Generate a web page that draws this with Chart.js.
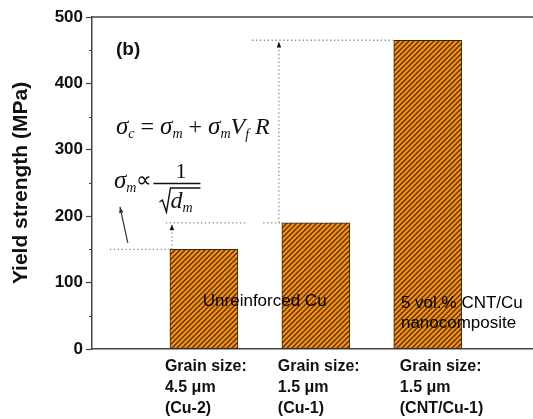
<!DOCTYPE html>
<html>
<head>
<meta charset="utf-8">
<script src="https://cdn.jsdelivr.net/npm/chart.js@4"></script>
<style>
  html, body { margin: 0; padding: 0; background: #fff; }
  #wrap { width: 533px; height: 419px; }
</style>
</head>
<body>
<div id="wrap"><canvas id="yieldChart" width="533" height="419"></canvas></div>
<script>
// chart data
const categories = ['Cu-2', 'Cu-1', 'CNT/Cu-1'];
const xPositions = [1, 2, 3];
const yieldStrength = [150, 190, 465];
const yTicks = [0, 100, 200, 300, 400, 500];
const minorTicks = [50, 150, 250, 350, 450];
const grainLabels = [
  ['Grain size:', '4.5 μm', '(Cu-2)'],
  ['Grain size:', '1.5 μm', '(Cu-1)'],
  ['Grain size:', '1.5 μm', '(CNT/Cu-1)'],
];

const SANS = '"Liberation Sans", Arial, sans-serif';
const SERIF = '"Liberation Serif", "Times New Roman", serif';

// orange fill with dark "/" hatching
function makeHatch() {
  const s = 5;
  const c = document.createElement('canvas');
  c.width = s; c.height = s;
  const g = c.getContext('2d');
  g.fillStyle = '#f3931c';
  g.fillRect(0, 0, s, s);
  g.strokeStyle = '#623005';
  g.lineWidth = 1.4;
  g.beginPath();
  g.moveTo(-1, s + 1); g.lineTo(s + 1, -1);
  g.moveTo(-1, 1); g.lineTo(1, -1);
  g.moveTo(s - 1, s + 1); g.lineTo(s + 1, s - 1);
  g.stroke();
  return g.createPattern(c, 'repeat');
}

function arrowHead(ctx, x, y, ang, len, w) {
  ctx.save();
  ctx.translate(x, y);
  ctx.rotate(ang);
  ctx.beginPath();
  ctx.moveTo(0, 0);
  ctx.lineTo(-len, -w / 2);
  ctx.lineTo(-len, w / 2);
  ctx.closePath();
  ctx.fill();
  ctx.restore();
}

// draws text runs: [text, size, dy, italic]
function drawRuns(ctx, x, y, runs) {
  for (const r of runs) {
    ctx.font = (r[3] ? 'italic ' : '') + r[1] + 'px ' + SERIF;
    ctx.fillText(r[0], x, y + r[2]);
    x += ctx.measureText(r[0]).width;
  }
  return x;
}

const annotations = {
  id: 'annotations',
  afterDraw(chart) {
    const { ctx, chartArea: ca, scales: { x, y } } = chart;
    const X = v => x.getPixelForValue(v);
    const Y = v => y.getPixelForValue(v);
    ctx.save();

    // top frame line
    ctx.strokeStyle = '#444';
    ctx.lineWidth = 1.5;
    ctx.beginPath();
    ctx.moveTo(ca.left, ca.top);
    ctx.lineTo(ca.right, ca.top);
    ctx.stroke();

    // minor ticks
    ctx.lineWidth = 1;
    minorTicks.forEach(v => {
      ctx.beginPath();
      ctx.moveTo(ca.left - 3, Math.round(Y(v)) + 0.5);
      ctx.lineTo(ca.left, Math.round(Y(v)) + 0.5);
      ctx.stroke();
    });

    // dotted guide lines
    ctx.strokeStyle = '#8a8a8a';
    ctx.lineWidth = 1.3;
    ctx.setLineDash([1.3, 2.6]);
    const hline = (x0, x1, v) => {
      ctx.beginPath();
      ctx.moveTo(X(x0), Y(v));
      ctx.lineTo(X(x1), Y(v));
      ctx.stroke();
    };
    const vline = (xv, v0, v1) => {
      ctx.beginPath();
      ctx.moveTo(X(xv), Y(v0));
      ctx.lineTo(X(xv), Y(v1));
      ctx.stroke();
    };
    hline(0.16, 0.69, yieldStrength[0]);
    hline(0.66, 1.38, yieldStrength[1]);
    hline(1.53, 1.70, yieldStrength[1]);
    hline(1.43, 2.69, yieldStrength[2]);
    vline(0.714, yieldStrength[0], yieldStrength[1] - 4);
    vline(1.67, yieldStrength[1], yieldStrength[2] - 4);
    ctx.setLineDash([]);

    ctx.fillStyle = '#111';
    arrowHead(ctx, X(0.714), Y(yieldStrength[1] - 2), -Math.PI / 2, 6, 4.5);
    arrowHead(ctx, X(1.67), Y(yieldStrength[2] - 2), -Math.PI / 2, 6, 4.5);

    // solid arrow
    const ax0 = X(0.32), ay0 = Y(160), ax1 = X(0.25), ay1 = Y(214);
    ctx.strokeStyle = '#333';
    ctx.lineWidth = 1.2;
    ctx.beginPath();
    ctx.moveTo(ax0, ay0);
    ctx.lineTo(ax1, ay1);
    ctx.stroke();
    ctx.fillStyle = '#333';
    arrowHead(ctx, ax1, ay1, Math.atan2(ay1 - ay0, ax1 - ax0), 6, 4.5);

    // panel label
    ctx.fillStyle = '#111';
    ctx.textBaseline = 'middle';
    ctx.textAlign = 'left';
    ctx.font = 'bold 19px ' + SANS;
    ctx.fillText('(b)', ca.left + 24, ca.top + 33);

    // formulas
    ctx.textBaseline = 'alphabetic';
    const fx = ca.left + 24;
    drawRuns(ctx, fx, 134, [
      ['σ', 25, 0, true], ['c', 14, 4, true], [' = ', 24, 0, false],
      ['σ', 25, 0, true], ['m', 14, 4, true], [' + ', 24, 0, false],
      ['σ', 25, 0, true], ['m', 14, 4, true], ['V', 24, 0, true],
      ['f', 14, 5, true], [' R', 24, 0, true],
    ]);
    let ex = drawRuns(ctx, fx - 2, 188, [
      ['σ', 25, 0, true], ['m', 14, 4, true], ['∝', 22, -1, false],
    ]);
    // fraction 1 / sqrt(d_m)
    const f0 = ex + 1, f1 = ex + 48;
    ctx.font = '22px ' + SERIF;
    ctx.textAlign = 'center';
    ctx.fillText('1', (f0 + f1) / 2 + 4, 178);
    ctx.textAlign = 'left';
    ctx.strokeStyle = '#111';
    ctx.lineWidth = 1.4;
    ctx.beginPath();
    ctx.moveTo(f0, 183.5);
    ctx.lineTo(f1, 183.5);
    ctx.stroke();
    ctx.beginPath();
    ctx.moveTo(f0 + 6, 202);
    ctx.lineTo(f0 + 9, 200);
    ctx.lineTo(f0 + 13, 212);
    ctx.lineTo(f0 + 17, 188);
    ctx.lineTo(f1, 188);
    ctx.stroke();
    drawRuns(ctx, f0 + 17, 208, [['d', 24, 0, true], ['m', 14, 4, true]]);

    // in-bar texts
    ctx.fillStyle = '#000';
    ctx.font = '17px ' + SANS;
    ctx.textBaseline = 'middle';
    ctx.fillText('Unreinforced Cu', X(0.99), Y(72));
    ctx.fillText('5 vol.% CNT/Cu', X(2.76), Y(69));
    ctx.fillText('nanocomposite', X(2.76), Y(39));

    // category labels under the axis
    ctx.fillStyle = '#111';
    ctx.font = 'bold 16px ' + SANS;
    const offs = [-39, -38, -28];
    grainLabels.forEach((lines, i) => {
      const lx = X(xPositions[i]) + offs[i];
      lines.forEach((t, j) => ctx.fillText(t, lx, ca.bottom + 18 + j * 21));
    });

    ctx.restore();
  }
};

const ctx = document.getElementById('yieldChart').getContext('2d');

const yieldChart = new Chart(ctx, {
  type: 'bar',
  data: {
    datasets: [{
      label: 'Yield strength',
      data: xPositions.map((xv, i) => ({ x: xv, y: yieldStrength[i] })),
      backgroundColor: makeHatch(),
      borderColor: '#3a2410',
      borderWidth: 1,
      borderSkipped: false,
      barThickness: 68,
    }],
  },
  options: {
    responsive: false,
    animation: false,
    layout: { padding: { top: 17, left: 0, right: 0, bottom: 0 } },
    plugins: { legend: { display: false }, tooltip: { enabled: false } },
    scales: {
      x: {
        type: 'linear',
        min: 0,
        max: 3.94,
        offset: false,
        ticks: { display: false },
        grid: { display: false },
        border: { display: true, color: '#444', width: 1.5 },
        afterFit(s) { s.height = 70; },
      },
      y: {
        min: 0,
        max: 500,
        afterBuildTicks(s) { s.ticks = yTicks.map(v => ({ value: v })); },
        ticks: {
          color: '#111',
          padding: 3,
          font: { family: SANS, size: 17, weight: 'bold' },
        },
        grid: { drawOnChartArea: false, tickLength: 6, color: '#444', tickWidth: 1.2 },
        border: { color: '#444', width: 1.5 },
        title: {
          display: true,
          text: 'Yield strength (MPa)',
          color: '#111',
          padding: { top: 9, bottom: 0 },
          font: { family: SANS, size: 21, weight: 'bold' },
        },
        afterFit(s) { s.width = 92; },
      },
    },
  },
  plugins: [annotations],
});
</script>
</body>
</html>
